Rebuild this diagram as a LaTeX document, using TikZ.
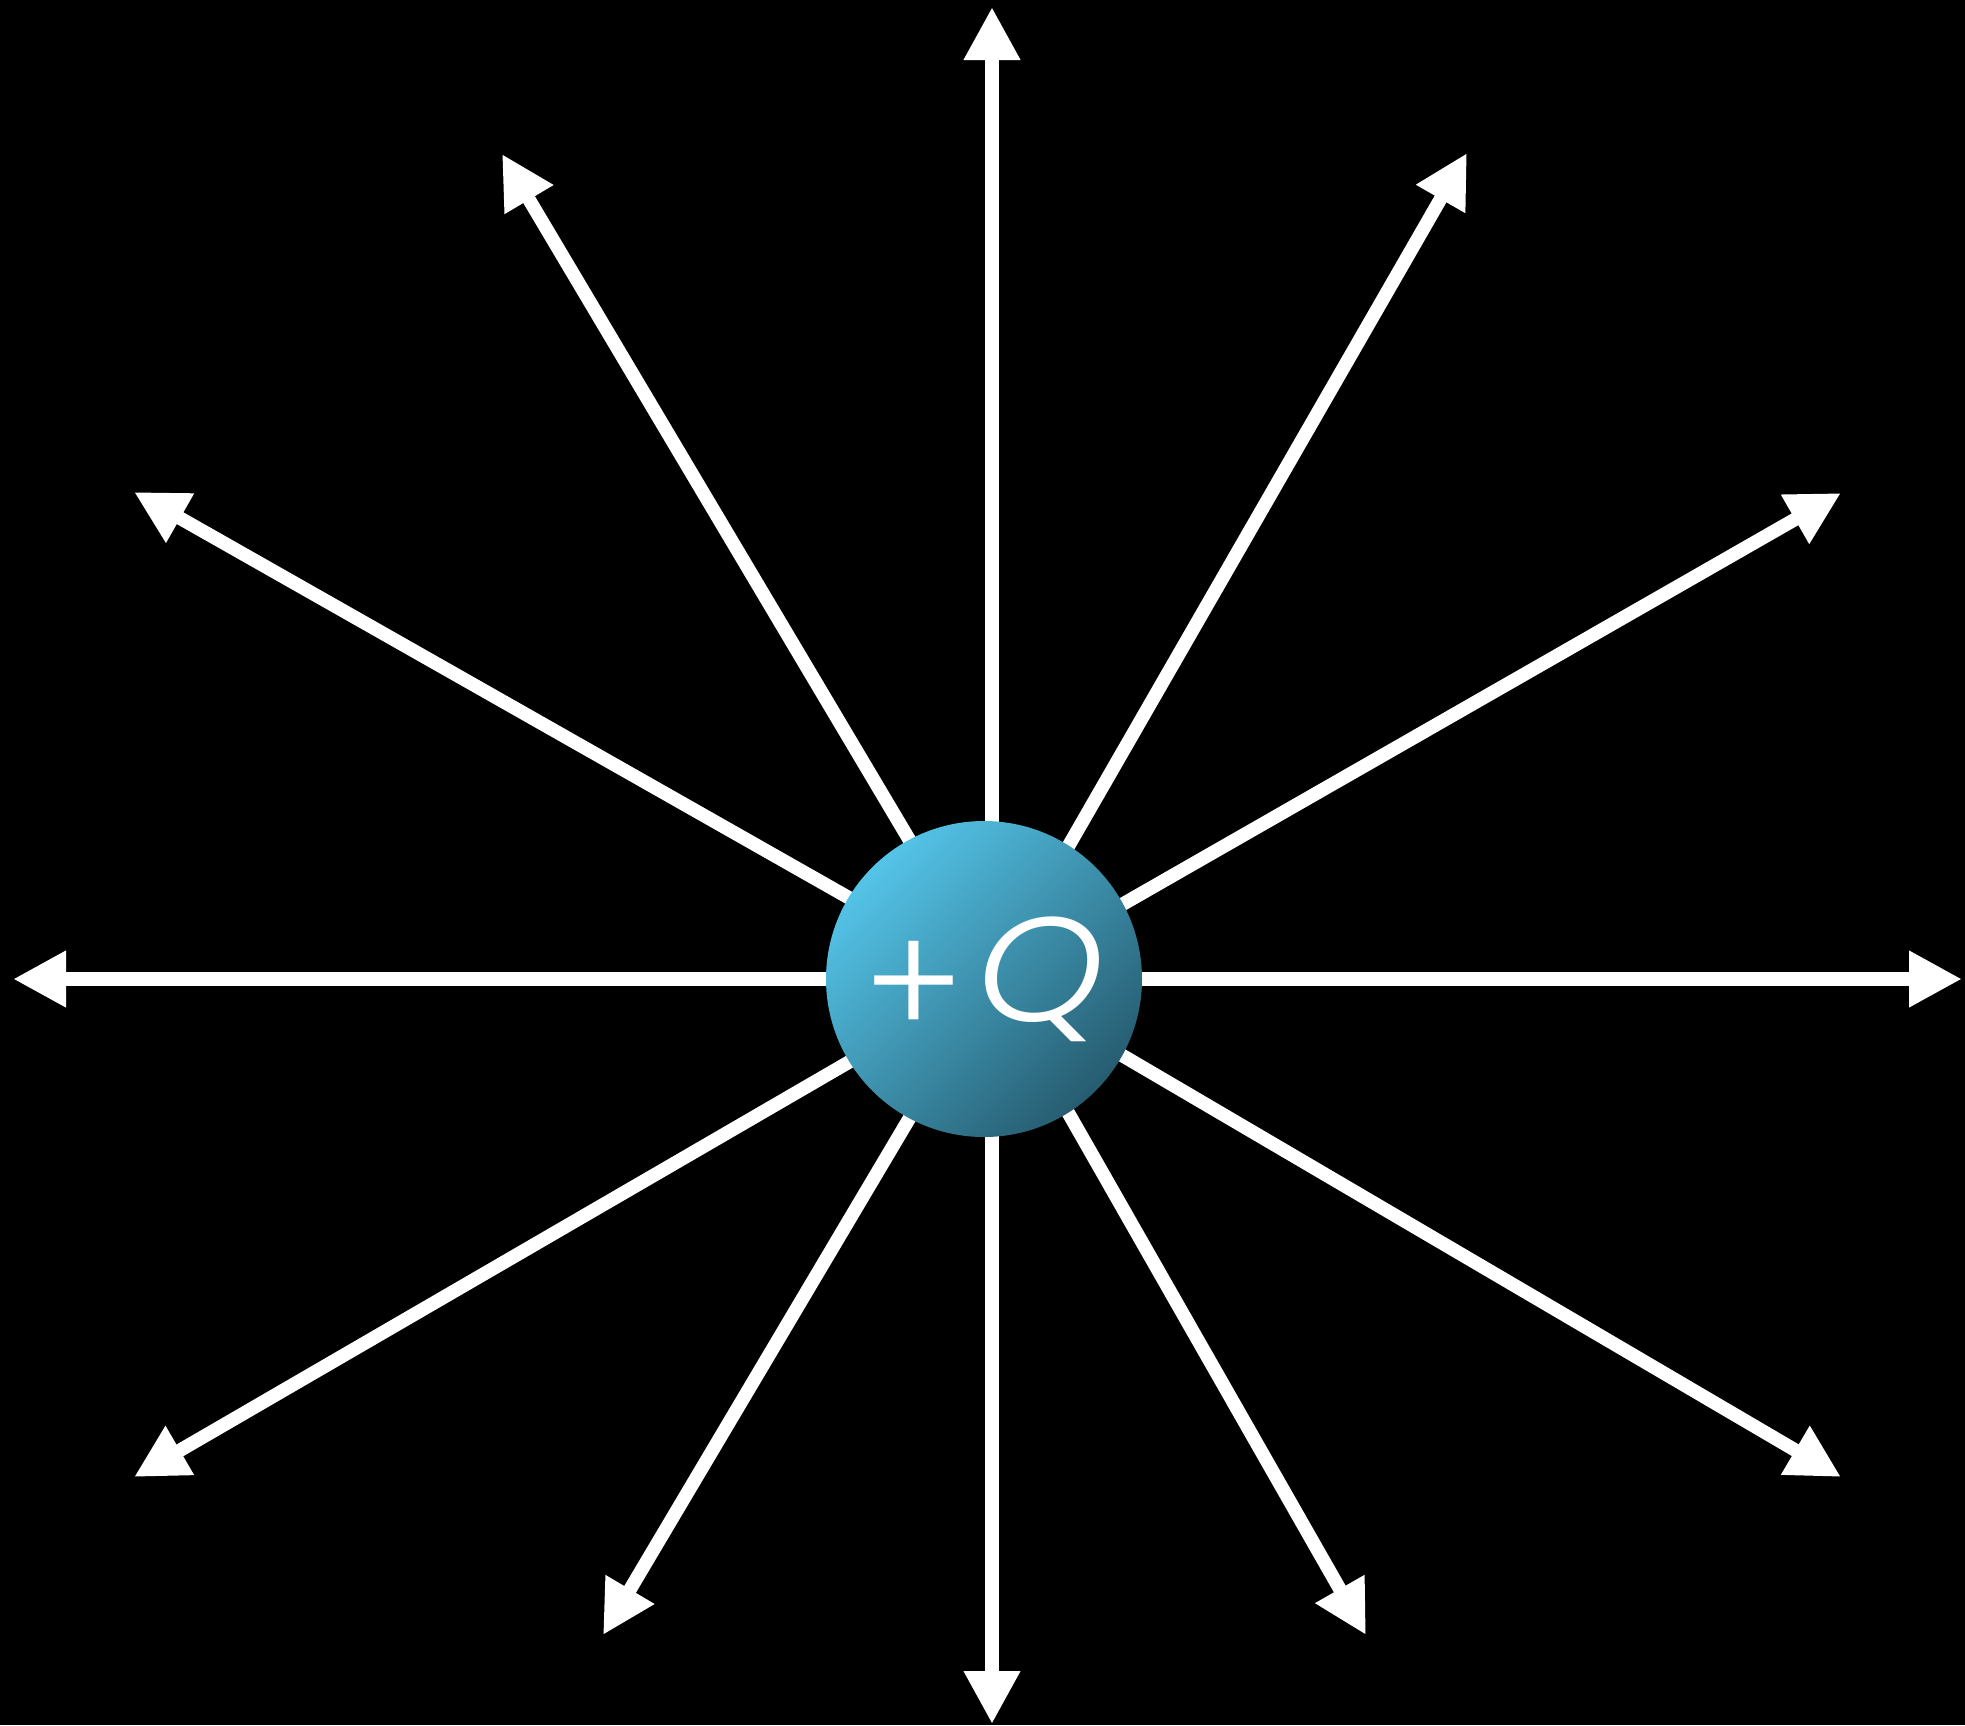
\documentclass[tikz,border=0pt]{standalone}
\usepackage{fontspec}
\newfontfamily\qfont{Poppins}[UprightFont=* Light, ItalicFont=* Light Italic]
\usetikzlibrary{arrows.meta}
\definecolor{qlight}{RGB}{84,196,232}
\definecolor{qdark}{RGB}{38,92,112}
\tikzset{
  fieldline/.style={draw=white, line width=6.75pt, -{Triangle[length=26.5pt,width=26.5pt]}},
  charge/.style={circle, inner sep=0pt, minimum size=158pt, top color=qlight, bottom color=qdark, shading angle=45, text=white}
}
\begin{document}
\begin{tikzpicture}[x=0.5pt,y=-0.5pt]
\fill[black] (0,0) rectangle (1965,1725);
\useasboundingbox (0,0) rectangle (1965,1725);
\coordinate (o) at (992,979);
\coordinate (t0) at (1962,979);
\coordinate (t30) at (1841,493);
\coordinate (t60) at (1467,153);
\coordinate (t90) at (992,7);
\coordinate (t120) at (502,154);
\coordinate (t150) at (134,492);
\coordinate (t180) at (13,979);
\coordinate (t210) at (134,1477);
\coordinate (t240) at (603,1635);
\coordinate (t270) at (992,1724);
\coordinate (t300) at (1366,1635);
\coordinate (t330) at (1841,1477);
\foreach \a in {0,30,60,90,120,150,180,210,240,270,300,330}
  \draw[fieldline] (o) -- (t\a);
\node[charge] (Q) at (984,979) {\fontsize{74pt}{74pt}\qfont \raisebox{-8pt}{\scalebox{1.04}{+}}\hspace{6pt}\itshape\scalebox{1.1}[1]{Q}};
\end{tikzpicture}
\end{document}
